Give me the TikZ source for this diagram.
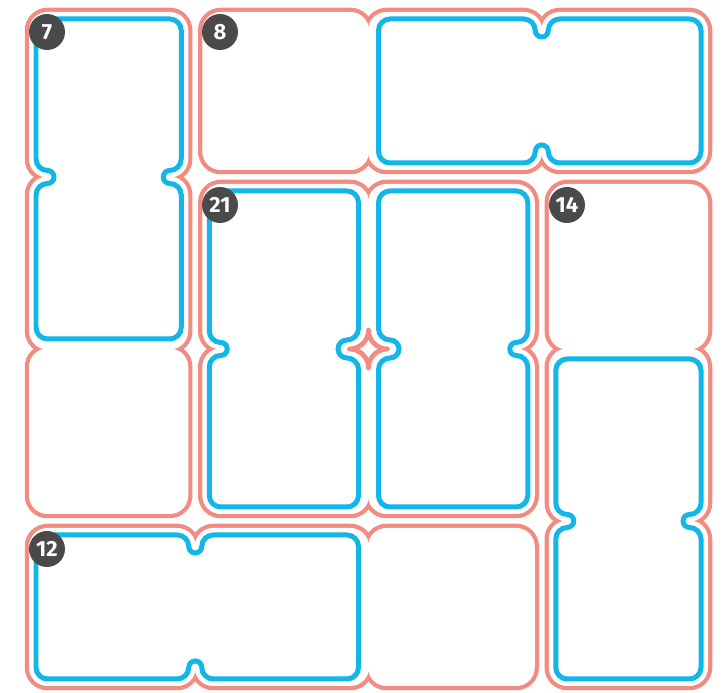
\documentclass[tikz,border=0pt]{standalone}
\usepackage{fontspec}
\setmainfont{Fira Sans}
\definecolor{cagered}{RGB}{242,139,130}
\definecolor{dominoblue}{RGB}{18,182,232}
\definecolor{badgegrey}{RGB}{74,74,74}
\newcommand{\pxu}{0.02cm}
\tikzset{
  cageline/.style={draw=cagered, line width=0.19cm, rounded corners=0.36cm},
  cagefill/.style={fill=white, draw=white, line width=0.02cm, rounded corners=0.36cm},
  cagestar/.style={draw=cagered, line width=0.095cm, line join=round},
  domino/.style={draw=dominoblue, line width=0.1cm},
  badge/.style={circle, fill=badgegrey, minimum size=0.72cm, inner sep=0pt,
    text=white, font=\bfseries\fontsize{12.5}{14}\selectfont}
}
% cells of the cages: x1/y1/x2/y2
\newcommand{\cagecells}{29.5/680.5/187.75/516, 29.5/516/187.75/344, 29.5/344/187.75/179.5,
  202.75/680.5/368.5/523.5, 368.5/680.5/541.75/523.5, 541.75/680.5/707.5/523.5,
  202.75/508.5/368.5/344, 368.5/508.5/534.25/344, 202.75/344/368.5/179.5, 368.5/344/534.25/179.5,
  549.25/508.5/707.5/344, 549.25/344/707.5/172, 549.25/172/707.5/7.5,
  29.5/164.5/195.25/7.5, 195.25/164.5/368.5/7.5, 368.5/164.5/534.25/7.5}
% vertical domino: xl, xr, yt, yb, ym, left bump, right bump
\newcommand{\vdomino}[7]{%
  \draw[domino] (#1+11.5,#3) -- (#2-11.5,#3) arc[start angle=90,end angle=0,radius=11.5*\pxu]
    -- (#2,#5+11.5+#7) arc[start angle=0,end angle=-90,radius=11.5*\pxu]
    arc[start angle=90,end angle=270,radius=#7*\pxu]
    arc[start angle=90,end angle=0,radius=11.5*\pxu]
    -- (#2,#4+11.5) arc[start angle=0,end angle=-90,radius=11.5*\pxu]
    -- (#1+11.5,#4) arc[start angle=270,end angle=180,radius=11.5*\pxu]
    -- (#1,#5-11.5-#6) arc[start angle=180,end angle=90,radius=11.5*\pxu]
    arc[start angle=270,end angle=450,radius=#6*\pxu]
    arc[start angle=270,end angle=180,radius=11.5*\pxu]
    -- (#1,#3-11.5) arc[start angle=180,end angle=90,radius=11.5*\pxu] -- cycle;}
% horizontal domino: xl, xr, yt, yb, xm, top bump, bottom bump
\newcommand{\hdomino}[7]{%
  \draw[domino] (#1+11.5,#3) -- (#5-11.5-#6,#3) arc[start angle=90,end angle=0,radius=11.5*\pxu]
    arc[start angle=180,end angle=360,radius=#6*\pxu]
    arc[start angle=180,end angle=90,radius=11.5*\pxu]
    -- (#2-11.5,#3) arc[start angle=90,end angle=0,radius=11.5*\pxu]
    -- (#2,#4+11.5) arc[start angle=0,end angle=-90,radius=11.5*\pxu]
    -- (#5+11.5+#7,#4) arc[start angle=270,end angle=180,radius=11.5*\pxu]
    arc[start angle=0,end angle=180,radius=#7*\pxu]
    arc[start angle=0,end angle=-90,radius=11.5*\pxu]
    -- (#1+11.5,#4) arc[start angle=270,end angle=180,radius=11.5*\pxu]
    -- (#1,#3-11.5) arc[start angle=180,end angle=90,radius=11.5*\pxu] -- cycle;}

\begin{document}
\begin{tikzpicture}[x=\pxu, y=\pxu]
  \useasboundingbox (0,0) rectangle (728,693);

  % Cages
  \foreach \xa/\ya/\xb/\yb in \cagecells \draw[cageline] (\xa,\ya) rectangle (\xb,\yb);
  \foreach \xa/\ya/\xb/\yb in \cagecells \fill[cagefill] (\xa,\ya) rectangle (\xb,\yb);
  % star in the middle of the 21 cage
  \fill[white] (368.5,344) circle[radius=0.26cm];
  \draw[cagestar] (387.5,344) arc[start angle=270,end angle=180,radius=19*\pxu]
    arc[start angle=0,end angle=-90,radius=19*\pxu]
    arc[start angle=90,end angle=0,radius=19*\pxu]
    arc[start angle=180,end angle=90,radius=19*\pxu] -- cycle;

  % Dominoes
  \vdomino{36}{181.25}{674}{354}{516}{6.5}{6.5}
  \vdomino{209.25}{358.5}{502}{186}{344}{6.5}{9}
  \vdomino{378.5}{527.75}{502}{186}{344}{9}{6.5}
  \vdomino{555.75}{701}{334}{14}{172}{6.5}{6.5}
  \hdomino{378.5}{701}{674}{530}{541.75}{6.5}{6.5}
  \hdomino{36}{358.5}{158}{14}{195.25}{6.5}{6.5}

  % Sums
  \node[badge] (b7) at (47,661) {7};
  \node[badge] (b8) at (220,661) {8};
  \node[badge] (b21) at (220,488) {21};
  \node[badge] (b14) at (567,488) {14};
  \node[badge] (b12) at (47,144) {12};
\end{tikzpicture}
\end{document}
